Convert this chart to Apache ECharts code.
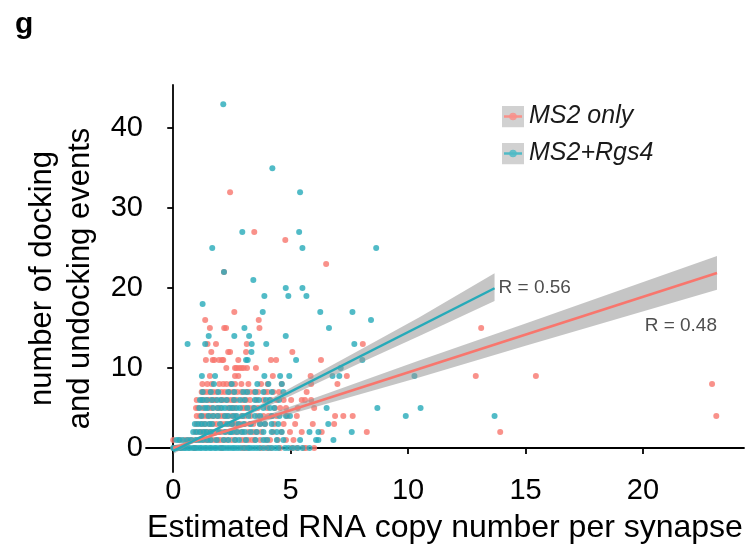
<!DOCTYPE html>
<html>
<head>
<meta charset="utf-8">
<script src="https://cdn.jsdelivr.net/npm/echarts@6/dist/echarts.min.js"></script>
<style>html,body{margin:0;padding:0;background:#fff}#c{width:746px;height:550px}</style>
</head>
<body>
<div id="c"></div>
<script>
const seriesNames = ['MS2 only', 'MS2+Rgs4'];
const xTicks = [0, 5, 10, 15, 20];
const yTicks = [0, 10, 20, 30, 40];
const rLabels = ['R = 0.56', 'R = 0.48'];

const ms2OnlyPts = [
  [2.42,32],[3.45,27],[4.77,26],[6.51,23],[2.16,22],[2.60,17],[1.36,16],[3.64,16],
  [1.56,15],[2.17,15],[2.25,15],[3.67,15],[13.11,15],
  [1.46,13],[1.82,13],[3.13,13],[8.07,13],
  [1.62,12],[2.34,12],[2.42,12],[3.10,12],[5.07,12],
  [1.39,11],[1.68,11],[1.75,11],[1.95,11],[2.08,11],[2.13,11],[2.77,11],[4.16,11],[4.38,11],[6.29,11],
  [2.26,10],[2.63,10],[2.69,10],[2.80,10],[2.90,10],[3.00,10],[3.14,10],[3.52,10],
  [1.56,9],[2.63,9],[2.77,9],[4.24,9],[5.85,9],[7.39,9],[12.88,9],[15.44,9],
  [1.24,8],[1.45,8],[1.64,8],[1.96,8],[2.13,8],[2.27,8],[2.45,8],[2.63,8],[2.90,8],[3.20,8],[3.74,8],[4.02,8],[4.62,8],[5.87,8],[6.99,8],[22.94,8],
  [1.21,7],[1.30,7],[1.42,7],[1.56,7],[1.70,7],[1.85,7],[2.06,7],[2.20,7],[2.40,7],[2.56,7],[2.73,7],[2.90,7],[3.10,7],[3.27,7],[3.45,7],[3.62,7],[3.90,7],[4.02,7],[4.26,7],[4.50,7],[5.68,7],
  [1.00,6],[1.20,6],[1.31,6],[1.45,6],[1.56,6],[1.70,6],[1.80,6],[2.02,6],[2.13,6],[2.30,6],[2.45,6],[2.56,6],[2.70,6],[2.95,6],[3.10,6],[3.27,6],[3.55,6],[3.84,6],[4.15,6],[4.41,6],[4.70,6],[5.02,6],[5.47,6],[5.61,6],[5.87,6],
  [0.97,5],[1.05,5],[1.25,5],[1.53,5],[1.65,5],[1.87,5],[2.00,5],[2.34,5],[2.50,5],[2.62,5],[2.95,5],[3.05,5],[3.25,5],[3.41,5],[3.60,5],[4.00,5],[4.33,5],[4.55,5],[4.80,5],[5.30,5],[6.00,5],
  [1.00,4],[1.14,4],[1.28,4],[1.42,4],[1.56,4],[1.70,4],[1.87,4],[2.02,4],[2.15,4],[2.30,4],[2.49,4],[2.65,4],[2.91,4],[3.05,4],[3.30,4],[3.60,4],[3.84,4],[4.05,4],[4.19,4],[4.40,4],[4.85,4],[5.26,4],[6.89,4],[7.24,4],[7.64,4],[23.12,4],
  [1.00,3],[1.21,3],[1.35,3],[1.55,3],[1.70,3],[1.85,3],[2.05,3],[2.20,3],[2.39,3],[2.52,3],[2.65,3],[2.85,3],[3.05,3],[3.25,3],[3.41,3],[3.70,3],[3.91,3],[4.30,3],[4.70,3],[5.19,3],[5.94,3],[6.85,3],
  [0.95,2],[1.15,2],[1.28,2],[1.42,2],[1.56,2],[1.70,2],[1.87,2],[2.06,2],[2.24,2],[2.40,2],[2.58,2],[2.75,2],[2.95,2],[3.20,2],[3.41,2],[3.55,2],[3.75,2],[4.25,2],[4.60,2],[4.97,2],[5.47,2],[6.32,2],[8.24,2],[13.92,2],
  [0.00,1],[0.28,1],[0.50,1],[0.65,1],[0.80,1],[1.00,1],[1.15,1],[1.30,1],[1.40,1],[1.50,1],[1.60,1],[1.75,1],[1.90,1],[2.00,1],[2.15,1],[2.30,1],[2.49,1],[2.65,1],[2.91,1],[3.05,1],[3.20,1],[3.35,1],[3.48,1],[3.70,1],[3.95,1],[4.12,1],[4.45,1],[4.80,1],[5.12,1],
  [0.00,0],[0.35,0],[0.90,0],[2.05,0],[2.95,0],[3.10,0],[3.74,0],[3.98,0],[4.15,0],[4.55,0],[5.04,0],[5.26,0],[5.57,0],[5.65,0],[6.00,0]
];

const rgs4Pts = [
  [2.13,43],[4.22,35],[5.40,32],[2.94,27],[5.36,27],[1.66,25],[5.50,25],[8.64,25],[2.16,22],[3.41,21],
  [4.79,20],[5.50,20],[3.88,19],[4.90,19],[5.67,19],[1.25,18],[3.81,17],[6.26,17],[7.63,17],[8.42,16],[3.03,15],[6.63,15],
  [1.51,14],[2.60,14],[3.23,14],[4.79,14],
  [0.61,13],[1.36,13],[3.34,13],[3.96,13],[7.71,13],
  [3.33,12],
  [3.10,11],[3.17,11],[5.23,11],[8.05,11],
  [7.13,10],
  [1.22,9],[1.78,9],[3.88,9],[4.55,9],[4.94,9],[6.78,9],[7.07,9],[10.27,9],
  [1.73,8],[2.49,8],[3.58,8],[4.05,8],[4.62,8],
  [1.25,7],[1.60,7],[1.92,7],[2.34,7],[2.60,7],[2.98,7],[3.15,7],[3.50,7],[3.84,7],[4.20,7],[4.69,7],
  [1.14,6],[1.25,6],[1.42,6],[1.65,6],[1.87,6],[2.05,6],[2.27,6],[2.59,6],[2.84,6],[3.05,6],[3.48,6],[3.65,6],[3.95,6],[4.10,6],[4.50,6],
  [1.11,5],[1.35,5],[1.45,5],[1.70,5],[1.90,5],[2.06,5],[2.20,5],[2.40,5],[2.53,5],[2.70,5],[2.84,5],[3.15,5],[3.45,5],[3.84,5],[4.12,5],[4.30,5],[6.53,5],[8.69,5],[10.53,5],
  [1.20,4],[1.50,4],[1.70,4],[1.90,4],[2.20,4],[2.34,4],[2.56,4],[2.70,4],[2.95,4],[3.20,4],[3.48,4],[3.70,4],[4.20,4],[4.52,4],[4.80,4],[4.97,4],[9.90,4],[13.68,4],
  [0.92,3],[1.07,3],[1.20,3],[1.35,3],[1.53,3],[1.65,3],[1.99,3],[2.30,3],[2.50,3],[2.77,3],[3.00,3],[3.30,3],[3.69,3],[3.90,3],[4.19,3],[4.47,3],[6.60,3],
  [0.85,2],[1.00,2],[1.14,2],[1.30,2],[1.42,2],[1.60,2],[1.95,2],[2.20,2],[2.42,2],[2.49,2],[2.70,2],[2.91,2],[3.05,2],[3.30,2],[3.55,2],[3.84,2],[4.19,2],[4.41,2],[4.62,2],[5.80,2],[6.18,2],[7.60,2],
  [0.14,1],[0.25,1],[0.40,1],[0.60,1],[0.75,1],[0.95,1],[1.10,1],[1.25,1],[1.45,1],[1.60,1],[1.85,1],[2.15,1],[2.35,1],[2.63,1],[2.80,1],[3.10,1],[3.50,1],[3.84,1],[4.00,1],[4.41,1],[4.69,1],[5.40,1],[6.08,1],[6.18,1],[6.82,1],
  [0.00,0],[0.04,0],[0.10,0],[0.17,0],[0.26,0],[0.33,0],[0.45,0],[0.52,0],[0.63,0],[0.71,0],[0.84,0],[0.93,0],[1.02,0],[1.13,0],
  [1.21,0],[1.34,0],[1.42,0],[1.55,0],[1.63,0],[1.76,0],[1.84,0],[1.97,0],[2.08,0],[2.17,0],[2.29,0],[2.40,0],[2.52,0],[2.61,0],
  [2.73,0],[2.85,0],[3.02,0],[3.19,0],[3.27,0],[3.40,0],[3.53,0],[3.66,0],[3.85,0],[4.05,0],[4.20,0],[4.35,0],[4.48,0],[4.76,0],[4.90,0],[5.10,0],[5.30,0],[5.50,0],[5.80,0]
];

// fitted regression lines (end points)
const ms2OnlyFit = [[0, 0.0], [23.15, 21.88]];
const rgs4Fit = [[0, -0.4], [13.68, 19.98]];

// confidence bands
const ms2OnlyBandX  = [0, 1.5, 3, 5, 10.5, 15, 23.15];
const ms2OnlyBandLo = [-0.3, 1.27, 2.62, 4.25, 8.85, 12.78, 19.8];
const ms2OnlyBandHi = [0.3, 1.57, 3.06, 5.2, 10.98, 15.58, 24.0];
const rgs4BandX  = [0, 1.5, 3, 5, 8, 10.5, 13.68];
const rgs4BandLo = [-0.75, 1.68, 3.85, 6.55, 10.7, 14.05, 18.4];
const rgs4BandHi = [-0.05, 2.0, 4.3, 7.55, 12.35, 16.4, 21.85];

const C_SAL = '#F8766D';
const C_TEAL = '#26AAB9';
const FONT = 'Liberation Sans, Arial, sans-serif';

function legendIcon(color) {
  const svg = '<svg xmlns="http://www.w3.org/2000/svg" width="22" height="22">' +
    '<rect width="22" height="22" fill="#C6C6C6"/>' +
    '<line x1="2" y1="11" x2="20" y2="11" stroke="' + color + '" stroke-width="2.4"/>' +
    '<circle cx="11" cy="11" r="3.8" fill="' + color + '" fill-opacity="0.85"/></svg>';
  return 'image://data:image/svg+xml;charset=utf-8,' + encodeURIComponent(svg);
}

function bandSeries(name, X, lo, hi) {
  return {
    type: 'custom', name: name, silent: true, z: 3,
    data: X.map((x, i) => [x, lo[i], hi[i]]),
    encode: { x: 0, y: [1, 2] },
    renderItem: function (params, api) {
      if (params.dataIndex !== 0) return;
      const pts = [];
      for (let i = 0; i < X.length; i++) pts.push(api.coord([X[i], hi[i]]));
      for (let i = X.length - 1; i >= 0; i--) pts.push(api.coord([X[i], lo[i]]));
      return { type: 'polygon', shape: { points: pts }, style: { fill: 'rgba(150,150,150,0.55)' } };
    }
  };
}

const chart = echarts.init(document.getElementById('c'), null, { renderer: 'canvas' });
chart.setOption({
  animation: false,
  backgroundColor: '#fff',
  textStyle: { fontFamily: FONT },
  title: { text: 'g', left: 10, top: 5, textStyle: { fontSize: 30, fontWeight: 'bold', color: '#000', fontFamily: FONT } },
  legend: {
    orient: 'vertical', left: 497, top: 99, itemWidth: 22, itemHeight: 22, itemGap: 12,
    selectedMode: false,
    data: [
      { name: seriesNames[0], icon: legendIcon(C_SAL) },
      { name: seriesNames[1], icon: legendIcon(C_TEAL) }
    ],
    textStyle: { fontSize: 25, fontStyle: 'italic', color: '#1a1a1a', fontFamily: FONT }
  },
  grid: { left: 146, right: 2, top: 85, bottom: 78 },
  xAxis: {
    type: 'value', min: -1.16, max: 24.3,
    name: 'Estimated RNA copy number per synapse', nameLocation: 'middle', nameGap: 40,
    nameTextStyle: { fontSize: 32, color: '#000', fontFamily: FONT },
    axisLine: { lineStyle: { color: '#000', width: 1.8 } },
    axisTick: { length: 6, lineStyle: { color: '#000', width: 1.8 }, customValues: xTicks },
    axisLabel: { fontSize: 29, color: '#000', margin: 4, customValues: xTicks, fontFamily: FONT },
    splitLine: { show: false }
  },
  yAxis: {
    type: 'value', min: -3, max: 45.4,
    name: 'number of docking\nand undocking events', nameLocation: 'middle', nameGap: 44, nameRotate: 90,
    nameTextStyle: { fontSize: 31, color: '#000', lineHeight: 38, fontFamily: FONT },
    axisLine: { lineStyle: { color: '#000', width: 1.8 } },
    axisTick: { length: 6, lineStyle: { color: '#000', width: 1.8 }, customValues: yTicks },
    axisLabel: { fontSize: 29, color: '#000', margin: 3, customValues: yTicks, fontFamily: FONT },
    splitLine: { show: false }
  },
  series: [
    { type: 'scatter', name: seriesNames[0], data: ms2OnlyPts, symbolSize: 6, z: 2,
      itemStyle: { color: C_SAL, opacity: 0.8 } },
    { type: 'scatter', name: seriesNames[1], data: rgs4Pts, symbolSize: 6, z: 2,
      itemStyle: { color: C_TEAL, opacity: 0.8 } },
    bandSeries('band1', ms2OnlyBandX, ms2OnlyBandLo, ms2OnlyBandHi),
    bandSeries('band2', rgs4BandX, rgs4BandLo, rgs4BandHi),
    { type: 'line', name: 'fit1', data: ms2OnlyFit, symbol: 'none', z: 4, silent: true,
      lineStyle: { color: C_SAL, width: 2.5 } },
    { type: 'line', name: 'fit2', data: rgs4Fit, symbol: 'none', z: 4, silent: true,
      lineStyle: { color: C_TEAL, width: 2.5 } },
    { type: 'scatter', name: 'rlab', symbolSize: 0, z: 5, silent: true,
      data: [
        { value: rgs4Fit[1], label: { show: true, formatter: rLabels[0], position: 'right', distance: 4 } },
        { value: [ms2OnlyFit[1][0], 15.3], label: { show: true, formatter: rLabels[1], position: 'left', distance: 0 } }
      ],
      label: { fontSize: 19, color: '#222', fontFamily: FONT }
    }
  ]
});
</script>
</body>
</html>
